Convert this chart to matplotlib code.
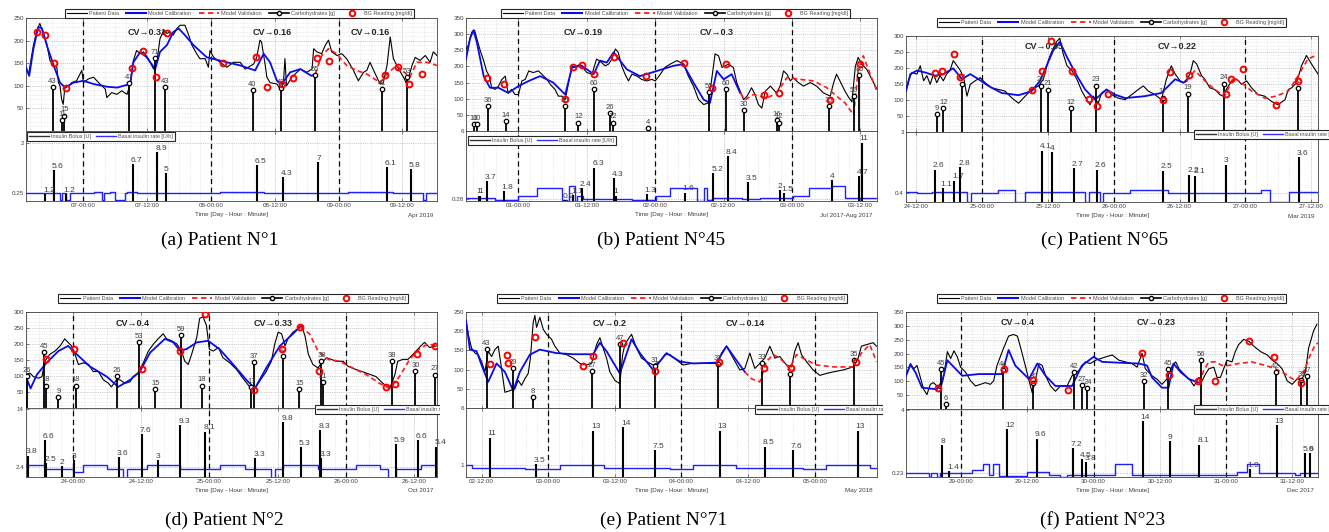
import matplotlib
matplotlib.use("Agg")
import matplotlib.pyplot as plt
from matplotlib.lines import Line2D
from matplotlib.ticker import MultipleLocator
from matplotlib.transforms import Bbox, TransformedBbox

plt.rcParams['font.family'] = ['Liberation Sans', 'DejaVu Sans']

W, H = 1329, 532

# time axis of every panel: hours from the first labelled midnight

# ---------------- (a) Patient N°1 ----------------
a_ticks = [0, 12, 24, 36, 48, 60]
a_tick_labels = ['07-00:00', '07-12:00', '08-00:00', '08-12:00', '09-00:00', '09-12:00']
a_days = [0, 24, 48]
a_cv = [(12.0, 'CV→0.31'), (35.6, 'CV→0.16'), (53.9, 'CV→0.16')]
a_cgm = [(-10.8, 137), (-10.3, 126), (-9.4, 190), (-8.8, 220), (-8.2, 238), (-7.5, 215), (-6.9, 193),
         (-6.3, 156), (-5.6, 145), (-5.0, 141), (-4.7, 107), (-4.4, 100), (-4.1, 70), (-3.8, 59),
         (-3.5, 96), (-2.8, 100), (-2.2, 107), (-1.3, 111), (-0.3, 134), (0.0, 107), (0.9, 115),
         (1.9, 119), (3.1, 104), (4.1, 93), (4.4, 74), (5.3, 85), (6.3, 81), (7.2, 89), (8.2, 81),
         (8.8, 104), (9.4, 156), (10.0, 178), (10.7, 171), (11.3, 175), (12.2, 160), (13.2, 137),
         (13.8, 152), (14.4, 204), (15.1, 223), (15.7, 216), (16.3, 219), (16.9, 212), (17.6, 227),
         (18.2, 234), (19.1, 234), (19.8, 212), (20.4, 190), (21.3, 171), (21.9, 160), (22.9, 160),
         (23.5, 141), (23.8, 178), (24.5, 163), (25.7, 152), (27.0, 141), (28.2, 152), (29.5, 152),
         (30.4, 137), (32.0, 148), (32.6, 163), (33.2, 201), (33.5, 197), (34.2, 145), (34.5, 119),
         (35.1, 107), (36.4, 104), (37.0, 93), (37.6, 104), (37.9, 160), (38.2, 100), (39.2, 119),
         (40.8, 137), (42.0, 130), (43.0, 137), (43.3, 182), (43.9, 175), (44.8, 171), (45.5, 190),
         (46.1, 201), (46.7, 175), (47.7, 167), (48.6, 171), (49.5, 160), (50.8, 134), (51.7, 111),
         (52.7, 130), (53.3, 134), (53.9, 152), (54.9, 126), (55.8, 104), (56.4, 107), (57.1, 145),
         (57.7, 208), (58.3, 160), (59.3, 137), (60.2, 119), (60.8, 104), (61.8, 145), (62.4, 163),
         (63.3, 156), (64.3, 167), (65.2, 152), (65.8, 175), (66.5, 167)]
a_cal = [(-10.8, 141), (-10.2, 122), (-9.4, 182), (-8.5, 230), (-7.8, 227), (-6.9, 190), (-5.6, 145),
         (-4.4, 107), (-3.4, 96), (-1.9, 107), (0.0, 111), (1.9, 104), (4.4, 98), (6.3, 96), (8.8, 104),
         (9.4, 152), (10.7, 175), (11.9, 163), (13.5, 137), (14.4, 175), (15.7, 190), (16.9, 219),
         (17.9, 227), (19.1, 212), (20.7, 190), (23.2, 163), (27.0, 152), (29.5, 145), (32.3, 134),
         (33.9, 171), (35.1, 152), (36.4, 111), (37.3, 104), (38.9, 130), (40.8, 137), (42.9, 122),
         (43.6, 126)]
a_val = [(43.6, 126), (44.8, 167), (46.1, 182), (47.6, 171), (49.5, 145), (51.4, 134), (53.3, 126),
         (55.8, 107), (57.1, 126), (58.9, 145), (61.4, 119), (62.7, 152), (64.6, 152), (66.5, 145)]
a_bg = [(-8.7, 219), (-7.2, 213), (-5.6, 150), (-3.3, 96), (9.1, 140), (11.2, 177), (13.7, 120),
        (15.7, 217), (26.2, 151), (32.4, 163), (34.5, 98), (37.4, 104), (39.5, 117), (44.0, 161),
        (46.1, 155), (56.8, 123), (59.2, 142), (61.3, 103), (63.6, 126)]
a_carbs = [(-5.8, 43), (-4.0, 11), (-3.6, 15), (8.6, 47), (13.5, 71), (15.3, 43), (31.8, 40),
           (37.2, 42), (43.6, 55), (56.2, 41), (60.9, 53)]
a_bolus = [(-7.2, 1.2), (-5.5, 5.6), (-3.3, 1.2), (9.3, 6.7), (13.9, 8.9), (15.5, 5), (32.6, 6.5),
           (37.5, 4.3), (44.2, 7), (57.1, 6.1), (61.6, 5.8)]
a_basal = [(-10.8, 0.25), (-4.4, 0), (-4.0, 0.25), (-3.3, 0), (-2.5, 0.25), (2.0, 0.3), (3.4, 0),
           (3.9, 0.25), (5.0, 0.3), (6.0, 0), (7.8, 0.25), (8.2, 0.3), (10.0, 0.25), (25.7, 0.3),
           (33.9, 0.25), (49.8, 0.3), (58.3, 0.25), (63.9, 0), (64.5, 0.25), (66.5, 0.25)]
a_basal_ticks = [0.25, 2]
a_basal_tick_labels = ['0.25', '2']

# ---------------- (b) Patient N°45 ----------------
b_ticks = [0, 12, 24, 36, 48, 60]
b_tick_labels = ['01-00:00', '01-12:00', '02-00:00', '02-12:00', '03-00:00', '03-12:00']
b_days = [0, 24, 48]
b_cv = [(11.4, 'CV→0.19'), (34.8, 'CV→0.3')]
b_cgm = [(-9.2, 254), (-8.8, 265), (-8.2, 306), (-7.7, 312), (-7.3, 286), (-6.7, 249), (-6.1, 218),
         (-5.6, 186), (-5.1, 170), (-4.7, 134), (-4.1, 129), (-3.5, 139), (-2.9, 160), (-2.3, 170),
         (-2.1, 144), (-1.8, 118), (-1.2, 129), (-0.6, 113), (0.0, 113), (0.6, 155), (1.2, 160),
         (1.8, 186), (2.6, 181), (3.5, 186), (4.1, 176), (5.0, 160), (5.6, 144), (6.4, 129), (7.0, 108),
         (7.6, 108), (8.2, 97), (8.8, 150), (9.4, 202), (9.9, 197), (10.8, 207), (12.0, 181),
         (12.9, 176), (13.7, 223), (14.6, 212), (15.2, 202), (15.8, 207), (16.4, 223), (17.0, 254),
         (17.5, 244), (18.1, 202), (18.7, 176), (19.3, 155), (19.9, 176), (20.8, 170), (21.6, 160),
         (22.5, 155), (23.4, 160), (24.0, 155), (24.9, 176), (25.7, 197), (26.6, 207), (27.8, 218),
         (29.0, 207), (29.8, 170), (30.7, 139), (31.6, 97), (32.5, 82), (33.3, 87), (33.9, 160),
         (34.5, 239), (35.1, 233), (35.7, 197), (36.3, 202), (36.8, 207), (37.7, 197), (38.3, 150),
         (38.9, 123), (39.5, 97), (40.1, 108), (40.9, 134), (41.5, 113), (42.1, 82), (42.7, 71),
         (43.3, 123), (44.2, 139), (44.7, 129), (45.3, 118), (45.9, 139), (46.5, 186), (47.1, 176),
         (47.7, 155), (48.2, 165), (49.1, 150), (50.0, 139), (51.2, 150), (52.3, 139), (53.5, 118),
         (54.7, 108), (55.3, 150), (55.8, 176), (56.4, 155), (57.3, 123), (57.9, 105), (58.5, 90),
         (59.1, 200), (59.6, 228), (60.2, 207), (61.1, 191), (62.0, 160), (62.9, 129)]
b_cal = [(-9.2, 223), (-8.5, 286), (-7.9, 312), (-7.3, 275), (-6.1, 170), (-5.0, 134), (-3.5, 134),
         (-1.8, 118), (0.0, 139), (1.8, 155), (3.8, 170), (6.1, 150), (8.2, 113), (9.4, 197),
         (11.1, 202), (13.2, 176), (14.3, 218), (15.5, 212), (16.7, 244), (19.0, 191), (21.3, 170),
         (24.3, 186), (27.2, 202), (28.9, 207), (30.7, 150), (32.5, 97), (33.6, 87), (34.8, 186),
         (36.0, 160), (37.4, 176), (38.9, 118)]
b_val = [(38.9, 118), (39.8, 97), (41.2, 113), (43.6, 102), (45.3, 118), (47.1, 165), (49.4, 160),
         (51.8, 155), (54.1, 134), (55.8, 108), (57.3, 87), (58.8, 50), (59.6, 191), (60.5, 233),
         (61.7, 176), (62.9, 123)]
b_bg = [(-5.6, 165), (-2.6, 147), (8.2, 99), (9.6, 197), (11.1, 204), (13.2, 176), (16.7, 230),
        (22.3, 170), (29.1, 212), (34.0, 132), (36.4, 207), (43.1, 113), (45.7, 118), (54.7, 95),
        (59.9, 207)]
b_carbs = [(-7.8, 10), (-7.3, 10), (-5.3, 36), (-2.2, 14), (8.1, 35), (10.5, 12), (13.2, 60),
           (16.1, 26), (16.5, 12), (22.8, 4), (33.5, 55), (36.4, 60), (39.6, 30), (45.3, 16),
           (45.7, 12), (54.4, 35), (58.9, 50), (59.8, 80)]
b_bolus = [(-7.0, 1), (-6.7, 1), (-5.6, 3.7), (-2.6, 1.8), (8.2, 0.2), (9.6, 1.1), (11.1, 2.4),
           (13.3, 6.3), (16.8, 4.3), (17.1, 1), (22.5, 1.3), (29.2, 1.6), (34.2, 5.2), (36.7, 8.4),
           (40.2, 3.5), (45.8, 2), (46.5, 1.5), (55.0, 4), (59.8, 4.7), (60.2, 11)]
b_basal = [(-9.2, 0.39), (-4.1, 0.2), (-2.9, 0.1), (-2.3, 0.2), (0.0, 0.53), (3.2, 1.19), (7.6, 0.2),
           (8.5, 0.1), (8.8, 1.33), (10.0, 0.1), (10.2, 0.53), (11.4, 0.25), (19.9, 0.2), (24.2, 0.48),
           (26.6, 1.19), (31.3, 0.1), (32.5, 1.19), (33.1, 0.2), (33.9, 0.39), (39.2, 0.25),
           (42.4, 0.39), (48.1, 0.53), (50.9, 1.19), (55.0, 1.33), (57.3, 0.39), (62.9, 0.39)]
b_basal_ticks = [0.28, 6]
b_basal_tick_labels = ['0.28', '6']

# ---------------- (c) Patient N°65 ----------------
c_ticks = [-12, 0, 12, 24, 36, 48, 60]
c_tick_labels = ['24-12:00', '25-00:00', '25-12:00', '26-00:00', '26-12:00', '27-00:00', '27-12:00']
c_days = [0, 24, 48]
c_cv = [(11.4, 'CV→0.35'), (35.5, 'CV→0.22')]
c_cgm = [(-13.8, 128), (-13.3, 165), (-12.7, 186), (-11.8, 181), (-11.2, 207), (-10.6, 160),
         (-10.0, 176), (-9.4, 149), (-8.8, 181), (-8.2, 154), (-7.6, 176), (-7.0, 160), (-6.4, 181),
         (-5.8, 192), (-5.2, 223), (-4.5, 207), (-3.9, 192), (-3.3, 170), (-2.7, 112), (-2.1, 149),
         (-1.2, 160), (-0.3, 170), (0.6, 154), (1.8, 138), (3.0, 133), (4.2, 128), (5.5, 106),
         (6.7, 90), (7.9, 112), (9.1, 133), (10.3, 144), (11.2, 165), (12.1, 223), (12.7, 250),
         (13.6, 282), (14.2, 293), (14.8, 245), (15.5, 207), (16.4, 192), (17.3, 165), (18.2, 128),
         (19.1, 101), (19.7, 85), (20.3, 112), (21.2, 90), (21.8, 122), (22.7, 133), (23.6, 117),
         (24.8, 106), (26.1, 101), (27.3, 117), (28.5, 133), (29.4, 144), (30.3, 128), (31.5, 117),
         (32.7, 101), (33.6, 165), (34.5, 207), (35.2, 181), (36.1, 160), (36.7, 154), (37.3, 165),
         (37.9, 181), (38.5, 223), (39.1, 213), (40.0, 176), (40.6, 165), (41.5, 138), (42.4, 133),
         (43.3, 117), (43.9, 112), (44.5, 133), (45.5, 160), (46.4, 165), (47.3, 149), (48.2, 160),
         (49.1, 138), (50.3, 117), (51.5, 112), (52.7, 96), (53.9, 85), (55.2, 101), (55.8, 133),
         (56.4, 138), (57.3, 154), (58.2, 207), (59.1, 239), (60.0, 213), (61.2, 181)]
c_cal = [(-13.8, 128), (-13.0, 181), (-11.8, 192), (-10.3, 186), (-8.5, 176), (-7.0, 181),
         (-5.2, 199), (-3.6, 165), (-2.1, 181), (-0.6, 165), (1.2, 144), (3.6, 122), (6.7, 115),
         (9.1, 128), (10.6, 160), (11.8, 207), (13.0, 255), (14.2, 282), (15.5, 234), (17.3, 176),
         (18.8, 133), (20.6, 101), (22.7, 133), (24.2, 117), (26.1, 106), (29.7, 112), (32.7, 122),
         (35.2, 165), (36.7, 154), (37.3, 160)]
c_val = [(37.3, 160), (38.8, 192), (40.6, 160), (42.4, 133), (44.2, 112), (45.8, 170), (47.3, 154),
         (49.1, 128), (51.5, 106), (53.6, 112), (55.8, 128), (57.6, 176), (59.4, 229), (60.9, 239)]
c_bg = [(-8.6, 184), (-7.2, 192), (-5.0, 244), (-3.9, 173), (9.1, 131), (10.9, 192), (12.6, 284),
        (16.5, 190), (19.6, 103), (20.9, 82), (23.0, 118), (33.0, 101), (34.2, 186), (37.7, 179),
        (44.4, 120), (45.3, 167), (47.6, 198), (53.6, 84), (57.5, 160)]
c_carbs = [(-8.2, 9), (-7.0, 12), (-3.6, 24), (10.8, 23), (12.1, 21), (16.2, 12), (20.8, 23),
           (33.0, 17), (37.5, 19), (44.1, 24), (57.6, 22)]
c_bolus = [(-8.5, 2.6), (-7.1, 1.1), (-5.0, 1.7), (-3.9, 2.8), (10.9, 4.1), (12.7, 4), (16.7, 2.7),
           (20.9, 2.6), (33.0, 2.5), (37.8, 2.2), (38.9, 2.1), (44.4, 3), (57.7, 3.6)]
c_basal = [(-13.8, 0.43), (-11.8, 0.4), (-9.1, 0.42), (-2.7, 0), (-1.9, 0.4), (3.0, 0.5), (6.1, 0),
           (7.9, 0.42), (18.8, 0), (19.5, 0.42), (21.5, 0), (22.1, 0.4), (27.0, 0.5), (33.9, 0.4),
           (50.9, 0.5), (52.4, 0), (55.9, 0.42), (61.2, 0.42)]
c_basal_ticks = [0.4, 3]
c_basal_tick_labels = ['0.4', '3']

# ---------------- (d) Patient N°2 ----------------
d_ticks = [0, 12, 24, 36, 48, 60]
d_tick_labels = ['24-00:00', '24-12:00', '25-00:00', '25-12:00', '26-00:00', '26-12:00']
d_days = [0, 24, 48]
d_cv = [(10.6, 'CV→0.4'), (35.3, 'CV→0.33')]
d_cgm = [(-8.2, 104), (-7.5, 109), (-6.9, 98), (-6.0, 93), (-5.4, 98), (-4.9, 146), (-4.0, 168),
         (-3.1, 178), (-2.2, 194), (-1.4, 216), (-0.8, 205), (-0.2, 194), (0.4, 168), (1.0, 136),
         (1.9, 141), (2.8, 136), (3.6, 114), (4.5, 114), (5.4, 88), (6.3, 77), (6.8, 66), (7.7, 88),
         (8.3, 88), (9.2, 77), (10.1, 82), (10.6, 98), (11.5, 109), (12.4, 141), (13.3, 178),
         (14.2, 200), (15.0, 216), (15.9, 232), (16.5, 216), (17.4, 210), (18.3, 200), (19.1, 178),
         (19.7, 146), (20.3, 136), (20.9, 168), (21.8, 221), (22.3, 280), (22.9, 285), (23.5, 258),
         (24.0, 184), (24.7, 178), (25.6, 189), (26.4, 157), (27.6, 141), (28.8, 120), (29.9, 93),
         (31.1, 66), (32.0, 61), (32.6, 77), (33.2, 93), (34.0, 114), (34.9, 146), (35.5, 200),
         (36.1, 237), (36.7, 232), (37.3, 194), (37.8, 216), (38.7, 237), (39.6, 248), (40.2, 258),
         (40.8, 226), (41.4, 168), (42.2, 136), (43.1, 125), (43.7, 141), (44.6, 157), (45.4, 152),
         (46.3, 146), (47.5, 146), (48.4, 130), (49.8, 120), (51.6, 109), (53.3, 98), (54.5, 77),
         (55.7, 61), (56.6, 104), (57.1, 146), (58.0, 152), (58.9, 152), (59.8, 168), (60.9, 189),
         (61.8, 205), (62.7, 189), (63.9, 194)]
d_cal = [(-8.2, 98), (-7.4, 61), (-6.3, 104), (-4.6, 141), (-2.5, 178), (-0.8, 194), (0.7, 168),
         (3.0, 130), (6.0, 98), (8.0, 66), (10.1, 88), (11.8, 114), (13.6, 173), (16.2, 216),
         (17.7, 205), (18.8, 180), (20.0, 184), (21.8, 205), (23.8, 210), (25.8, 184), (28.2, 136),
         (30.5, 88), (32.0, 61), (34.0, 125), (36.4, 194), (38.7, 232), (39.9, 253)]
d_val = [(39.9, 253), (41.6, 232), (43.1, 178), (44.9, 152), (46.9, 146), (49.2, 125), (51.6, 104),
         (53.9, 77), (55.7, 61), (57.4, 98), (59.2, 152), (60.9, 184), (62.4, 200), (63.9, 194)]
d_bg = [(-4.7, 154), (0.2, 184), (12.1, 123), (18.8, 177), (23.2, 293), (31.9, 56), (36.8, 184),
        (39.9, 253), (43.3, 117), (55.1, 66), (56.7, 75), (60.4, 170), (63.6, 194)]
d_carbs = [(-8.0, 26), (-5.0, 45), (-4.7, 18), (-2.5, 9), (0.6, 18), (7.7, 26), (11.7, 53), (14.5, 15),
           (19.0, 59), (22.7, 18), (31.4, 17), (31.8, 37), (37.0, 42), (39.8, 15), (43.7, 38),
           (44.0, 21), (56.1, 38), (60.2, 30), (63.7, 27)]
d_bolus = [(-7.9, 3.8), (-4.9, 6.6), (-4.6, 2.5), (-1.9, 2), (0.2, 3), (8.1, 3.6), (12.1, 7.6),
           (15.0, 3), (18.9, 9.3), (23.3, 8.1), (32.1, 3.3), (37.0, 9.8), (40.1, 5.3), (43.5, 8.3),
           (43.7, 3.3), (56.8, 5.9), (60.6, 6.6), (63.9, 5.4)]
d_basal = [(-8.2, 2.73), (-4.9, 1.94), (0.0, 1.4), (1.9, 2.73), (6.0, 1.94), (8.9, 0), (9.5, 1.94),
           (13.0, 2.73), (18.8, 1.94), (25.8, 2.73), (30.2, 1.94), (34.9, 0), (35.5, 1.94),
           (37.0, 2.73), (43.1, 1.94), (49.8, 2.73), (53.9, 1.94), (55.4, 0), (56.8, 1.94),
           (61.2, 2.73), (64.0, 2.73)]
d_basal_ticks = [2.4, 14]
d_basal_tick_labels = ['2.4', '14']

# ---------------- (e) Patient N°71 ----------------
e_ticks = [-12, 0, 12, 24, 36, 48]
e_tick_labels = ['02-12:00', '03-00:00', '03-12:00', '04-00:00', '04-12:00', '05-00:00']
e_days = [0, 24, 48]
e_cv = [(11.1, 'CV→0.2'), (35.4, 'CV→0.14')]
e_cgm = [(-14.8, 228), (-14.4, 192), (-13.8, 156), (-13.2, 143), (-12.6, 139), (-12.0, 121),
         (-11.4, 94), (-10.8, 148), (-10.2, 134), (-9.6, 152), (-9.0, 161), (-8.4, 103), (-7.8, 41),
         (-6.9, 45), (-6.0, 50), (-5.4, 72), (-4.8, 59), (-4.2, 76), (-3.6, 90), (-3.2, 130),
         (-2.7, 223), (-2.4, 241), (-2.1, 210), (-1.5, 236), (-0.9, 205), (-0.3, 192), (0.6, 179),
         (1.2, 161), (2.1, 143), (3.3, 139), (4.5, 130), (5.7, 116), (6.9, 112), (7.8, 116),
         (8.7, 165), (9.3, 183), (9.9, 156), (10.5, 130), (11.1, 94), (12.0, 72), (12.9, 63),
         (13.4, 139), (13.8, 165), (14.4, 179), (15.0, 192), (15.9, 156), (16.8, 130), (17.7, 121),
         (18.9, 112), (20.1, 121), (21.0, 139), (21.9, 139), (23.1, 125), (24.3, 112), (25.8, 116),
         (27.3, 116), (29.1, 116), (30.6, 116), (31.2, 143), (32.1, 161), (33.3, 130), (34.5, 99),
         (35.4, 103), (36.3, 143), (37.2, 103), (38.1, 116), (39.0, 130), (39.9, 161), (40.8, 130),
         (41.7, 134), (42.9, 112), (43.8, 107), (44.4, 148), (45.0, 170), (45.6, 139), (46.5, 121),
         (47.7, 99), (48.9, 85), (50.1, 90), (51.3, 94), (53.1, 99), (54.9, 107), (55.8, 130),
         (56.4, 161), (57.3, 165), (58.5, 170), (59.1, 161)]
e_cal = [(-14.8, 228), (-14.1, 152), (-12.9, 148), (-12.0, 112), (-10.8, 68), (-9.3, 116),
         (-7.8, 94), (-6.3, 45), (-5.1, 94), (-3.3, 139), (-1.5, 152), (1.5, 143), (4.5, 140),
         (8.1, 140), (9.3, 170), (10.5, 148), (12.9, 90), (15.0, 179), (16.5, 143), (18.9, 99),
         (21.3, 143), (23.7, 121), (26.1, 116), (30.3, 118), (32.1, 161), (33.6, 130), (35.4, 94)]
e_val = [(35.4, 94), (36.6, 76), (38.1, 68), (39.3, 121), (40.5, 139), (41.7, 130), (43.5, 103),
         (44.7, 139), (46.5, 125), (48.3, 112), (51.3, 107), (54.9, 107), (56.4, 143), (57.9, 165),
         (59.1, 121)]
e_bg = [(-10.5, 114), (-7.5, 137), (-7.2, 116), (-2.4, 184), (6.3, 110), (8.1, 135), (13.5, 169),
        (19.2, 96), (30.8, 120), (38.8, 103), (43.8, 103), (55.5, 121)]
e_carbs = [(-11.1, 43), (-6.4, 29), (-2.8, 8), (7.8, 27), (12.9, 47), (19.2, 31), (30.6, 32),
           (38.5, 33), (43.6, 25), (55.1, 35)]
e_bolus = [(-10.5, 11), (-2.2, 3.5), (8.1, 13), (13.5, 14), (19.2, 7.5), (30.9, 13), (39.0, 8.5),
           (44.0, 7.6), (55.7, 13)]
e_basal = [(-14.8, 1.0), (-13.8, 0.77), (-4.2, 0.65), (2.1, 1.0), (10.0, 0.77), (22.0, 0.65),
           (26.1, 1.0), (33.9, 0.77), (45.9, 0.65), (50.1, 1.0), (58.0, 0.77), (59.2, 0.77)]
e_basal_ticks = [1, 6]
e_basal_tick_labels = ['1', '6']

# ---------------- (f) Patient N°23 ----------------
f_ticks = [0, 12, 24, 36, 48, 60]
f_tick_labels = ['29-00:00', '29-12:00', '30-00:00', '30-12:00', '31-00:00', '31-12:00']
f_days = [0, 24, 48]
f_cv = [(10.2, 'CV→0.4'), (35.3, 'CV→0.23')]
f_cgm = [(-10.0, 120), (-9.2, 164), (-8.6, 145), (-8.0, 157), (-7.4, 114), (-6.8, 71), (-6.2, 52),
         (-5.6, 89), (-5.0, 95), (-4.4, 83), (-3.7, 71), (-3.1, 126), (-2.5, 207), (-1.9, 182),
         (-1.3, 210), (-0.7, 188), (-0.1, 151), (0.8, 133), (1.7, 102), (2.6, 83), (3.5, 89),
         (4.4, 95), (5.3, 89), (5.9, 102), (6.5, 157), (7.7, 220), (8.6, 263), (9.5, 269),
         (10.2, 263), (10.8, 220), (11.7, 151), (12.3, 102), (12.9, 58), (13.5, 108), (14.1, 164),
         (14.7, 157), (15.3, 120), (16.2, 83), (17.1, 64), (18.0, 83), (19.2, 83), (20.1, 120),
         (21.0, 133), (21.9, 151), (22.5, 170), (23.4, 164), (24.4, 176), (26.2, 188), (27.4, 195),
         (28.6, 176), (29.8, 170), (31.0, 164), (31.9, 151), (32.8, 201), (33.4, 145), (34.6, 120),
         (35.5, 108), (36.4, 89), (37.3, 108), (38.3, 157), (38.9, 170), (39.5, 145), (40.4, 126),
         (41.6, 102), (42.2, 83), (43.1, 114), (43.7, 102), (44.3, 126), (44.9, 145), (45.8, 151),
         (46.4, 114), (47.0, 114), (47.6, 145), (48.2, 176), (49.1, 170), (49.7, 207), (50.3, 232),
         (51.2, 251), (52.2, 244), (53.1, 226), (54.3, 207), (55.5, 195), (56.4, 176), (57.3, 164),
         (58.2, 145), (59.1, 102), (60.0, 89), (60.9, 108), (61.8, 108), (62.4, 133), (63.0, 220),
         (63.9, 282), (64.5, 306)]
f_cal = [(-10.0, 120), (-9.2, 160), (-8.3, 133), (-7.1, 77), (-4.4, 71), (-3.4, 102), (-2.5, 176),
         (-1.6, 157), (0.2, 120), (3.2, 126), (7.4, 126), (8.6, 213), (9.8, 157), (12.3, 108),
         (13.8, 164), (15.3, 120), (17.1, 83), (20.1, 83), (21.9, 157), (24.0, 188), (25.6, 170),
         (29.8, 166), (32.2, 164), (33.7, 157), (34.6, 114), (36.4, 77), (37.6, 77), (38.5, 164),
         (39.8, 133), (41.3, 108), (43.1, 95)]
f_val = [(43.1, 95), (44.0, 139), (44.9, 170), (46.1, 170), (47.3, 157), (48.5, 157), (50.3, 164),
         (52.7, 170), (55.2, 157), (57.0, 145), (58.8, 126), (60.6, 102), (62.1, 133), (63.3, 195),
         (64.2, 232), (64.7, 238)]
f_bg = [(-4.2, 74), (7.7, 145), (13.1, 105), (19.4, 67), (32.7, 201), (37.6, 123), (42.9, 102),
        (46.1, 100), (52.1, 247), (56.7, 186), (61.7, 95)]
f_carbs = [(-3.7, 45), (-2.8, 6), (7.6, 44), (13.1, 30), (20.4, 42), (21.9, 27), (22.9, 24),
           (33.1, 32), (37.5, 45), (43.4, 56), (57.0, 42), (61.7, 33), (62.7, 37)]
f_bolus = [(-3.4, 8), (-2.2, 1.4), (8.3, 12), (13.7, 9.6), (20.3, 7.2), (21.9, 4.5), (22.7, 3.8),
           (32.9, 14), (37.9, 9), (43.2, 8.1), (52.3, 1.9), (57.2, 13), (62.3, 5.9), (63.3, 6)]
f_basal = [(-10.0, 0.23), (-5.9, 0), (-5.4, 0.23), (-4.4, 0), (-3.9, 0.23), (2.0, 0.41), (3.9, 0.75),
           (5.1, 0.1), (5.7, 0.75), (6.9, 0.05), (12.0, 0.31), (15.9, 0.1), (18.0, 0), (19.2, 0.1),
           (27.9, 0.75), (31.0, 0.1), (50.0, 0.31), (51.8, 0.75), (54.0, 0.23), (60.6, 0.1),
           (61.5, 0.23), (64.7, 0.23)]
f_basal_ticks = [0.23, 4]
f_basal_tick_labels = ['0.23', '4']

captions = ['(a) Patient N°1', '(b) Patient N°45', '(c) Patient N°65',
            '(d) Patient N°2', '(e) Patient N°71', '(f) Patient N°23']
months = ['Apr 2019', 'Jul 2017-Aug 2017', 'Mar 2019', 'Oct 2017', 'May 2018', 'Dec 2017']

PANELS = [
    dict(ticks=a_ticks, tick_labels=a_tick_labels, days=a_days, cv=a_cv, cgm=a_cgm, cal=a_cal, val=a_val,
         bg=a_bg, carbs=a_carbs, bolus=a_bolus, basal=a_basal, basal_ticks=a_basal_ticks,
         basal_tick_labels=a_basal_tick_labels),
    dict(ticks=b_ticks, tick_labels=b_tick_labels, days=b_days, cv=b_cv, cgm=b_cgm, cal=b_cal, val=b_val,
         bg=b_bg, carbs=b_carbs, bolus=b_bolus, basal=b_basal, basal_ticks=b_basal_ticks,
         basal_tick_labels=b_basal_tick_labels),
    dict(ticks=c_ticks, tick_labels=c_tick_labels, days=c_days, cv=c_cv, cgm=c_cgm, cal=c_cal, val=c_val,
         bg=c_bg, carbs=c_carbs, bolus=c_bolus, basal=c_basal, basal_ticks=c_basal_ticks,
         basal_tick_labels=c_basal_tick_labels),
    dict(ticks=d_ticks, tick_labels=d_tick_labels, days=d_days, cv=d_cv, cgm=d_cgm, cal=d_cal, val=d_val,
         bg=d_bg, carbs=d_carbs, bolus=d_bolus, basal=d_basal, basal_ticks=d_basal_ticks,
         basal_tick_labels=d_basal_tick_labels),
    dict(ticks=e_ticks, tick_labels=e_tick_labels, days=e_days, cv=e_cv, cgm=e_cgm, cal=e_cal, val=e_val,
         bg=e_bg, carbs=e_carbs, bolus=e_bolus, basal=e_basal, basal_ticks=e_basal_ticks,
         basal_tick_labels=e_basal_tick_labels),
    dict(ticks=f_ticks, tick_labels=f_tick_labels, days=f_days, cv=f_cv, cgm=f_cgm, cal=f_cal, val=f_val,
         bg=f_bg, carbs=f_carbs, bolus=f_bolus, basal=f_basal, basal_ticks=f_basal_ticks,
         basal_tick_labels=f_basal_tick_labels),
]

# layout: pixel boxes (left, top, mid, bottom, right), axis ranges, legend spots
LAYOUT = [
    dict(box=(26, 18, 131, 201, 437), xlim=(-10.8, 66.5), ymax=250, carb_top=110.6, bolus_top=12.7,
         basal_ylim=(-0.02, 2.43), leg_x=0.519, leg_dy=0.0, leg2=(0.003, 0.985), clip=None,
         cv_y=0.875, cap=(220, 240)),
    dict(box=(466, 18, 131, 201, 877), xlim=(-9.2, 62.9), ymax=350, carb_top=161.0, bolus_top=13.2,
         basal_ylim=(0.1, 6.0), leg_x=0.51, leg_dy=0.0, leg2=(0.005, 0.93), clip=None,
         cv_y=0.876, cap=(661, 240)),
    dict(box=(906, 36, 132, 202, 1318), xlim=(-13.8, 61.2), ymax=300, carb_top=47.6, bolus_top=5.6,
         basal_ylim=(0.0, 3.0), leg_x=0.499, leg_dy=0.094, leg2=(0.699, 1.03), clip=None,
         cv_y=0.89, cap=(1105, 240)),
    dict(box=(26, 312, 408, 477, 437), xlim=(-8.2, 64.0), ymax=300, carb_top=77.5, bolus_top=12.3,
         basal_ylim=(0.35, 14.1), leg_x=0.504, leg_dy=0.094, leg2=(0.703, 1.04), clip=440,
         cv_y=0.885, cap=(224, 520)),
    dict(box=(466, 312, 408, 477, 877), xlim=(-14.8, 59.2), ymax=250, carb_top=70.4, bolus_top=19.3,
         basal_ylim=(-0.05, 6.0), leg_x=0.501, leg_dy=0.094, leg2=(0.703, 1.04), clip=883,
         cv_y=0.885, cap=(664, 520)),
    dict(box=(906, 312, 409, 477, 1318), xlim=(-10.0, 64.7), ymax=350, carb_top=110.4, bolus_top=17.0,
         basal_ylim=(-0.01, 4.05), leg_x=0.499, leg_dy=0.094, leg2=(0.699, 1.06), clip=None,
         cv_y=0.89, cap=(1103, 520)),
]

TXT = '0.25'


def unzip(pairs):
    return [p[0] for p in pairs], [p[1] for p in pairs]


def px_rect(left, top, right, bottom):
    return [left / W, 1 - bottom / H, (right - left) / W, (bottom - top) / H]


def draw_panel(fig, d, lay, caption, month):
    left, top, mid, bottom, right = lay['box']
    ax = fig.add_axes(px_rect(left, top, right, mid))
    axb = fig.add_axes(px_rect(left, mid, right, bottom))

    for a in (ax, axb):
        a.set_xticks(d['ticks'])
        a.xaxis.set_minor_locator(MultipleLocator(2))
        a.tick_params(which='both', direction='in', top=True, right=True, labelsize=4.5,
                      labelcolor=TXT, pad=1.5, width=0.5, color='0.3')
        a.tick_params(which='major', length=2)
        a.tick_params(which='minor', length=0)
        a.grid(which='major', ls=':', lw=0.5, color='0.6')
        a.grid(which='minor', axis='x', ls=':', lw=0.4, color='0.82')
        for s in a.spines.values():
            s.set_linewidth(0.6)
            s.set_color('0.25')
        for day in d['days']:
            a.axvline(day, color='k', ls=(0, (4, 3)), lw=0.9, zorder=2.5)

    # glucose panel
    ax.tick_params(labelbottom=False)
    ax.set_yticks(list(range(50, lay['ymax'] + 1, 50)))
    ax.yaxis.set_minor_locator(MultipleLocator(10))
    ax.grid(which='minor', axis='y', ls=':', lw=0.4, color='0.82')
    t, v = unzip(d['cgm'])
    ax.plot(t, v, color='k', lw=0.8, zorder=3)
    t, v = unzip(d['cal'])
    ax.plot(t, v, color='#0a0aee', lw=1.3, zorder=3.2)
    t, v = unzip(d['val'])
    ax.plot(t, v, color='#ff1a1a', lw=1.2, ls=(0, (3, 2)), zorder=3.2)
    for x, s in d['cv']:
        ax.text(x, lay['cv_y'], s, transform=ax.get_xaxis_transform(), ha='center', va='center',
                fontsize=6.5, fontweight='bold', color='0.15', zorder=4)
    ax.set_ylim(0, lay['ymax'])

    # carbohydrates on their own scale, BG readings on top
    axc = ax.twinx()
    axc.axis('off')
    t, v = unzip(d['carbs'])
    axc.vlines(t, 0, v, color='k', lw=1.3, zorder=3)
    axc.plot(t, v, ls='none', marker='o', ms=3.2, mfc='white', mec='k', mew=0.9, zorder=4)
    for ti, vi in d['carbs']:
        axc.annotate(f'{vi:g}', (ti, vi), xytext=(0, 1.6), textcoords='offset points',
                     ha='center', va='bottom', fontsize=5.5, color=TXT, zorder=4)
    t, v = unzip(d['bg'])
    axc.plot(t, v, ls='none', marker='o', ms=4.2, mfc='none', mec='#ff0000', mew=1.4,
             transform=ax.transData, zorder=5)
    axc.set_ylim(0, lay['carb_top'])

    handles = [Line2D([], [], color='k', lw=0.8),
               Line2D([], [], color='#0a0aee', lw=1.5),
               Line2D([], [], color='#ff1a1a', lw=1.3, ls=(0, (3, 2))),
               Line2D([], [], color='k', lw=1.2, marker='o', ms=3, mfc='white', mec='k'),
               Line2D([], [], ls='none', marker='o', ms=4, mfc='none', mec='#ff0000', mew=1.4)]
    names = ['Patient Data', 'Model Calibration', 'Model Validation', 'Carbohydrates [g]',
             'BG Reading [mg/dl]']
    leg = axc.legend(handles, names, loc='lower center', bbox_to_anchor=(lay['leg_x'], 1 + lay['leg_dy']),
                     ncol=5, fontsize=4, frameon=True, fancybox=False, edgecolor='0.15', framealpha=1,
                     borderpad=0.35, handlelength=3.6, handletextpad=0.4, columnspacing=1.3,
                     borderaxespad=0, numpoints=1)
    leg.get_frame().set_linewidth(0.8)
    for txt in leg.get_texts():
        txt.set_color('0.3')

    # insulin panel
    axb.set_xticklabels(d['tick_labels'])
    axb.set_yticks(d['basal_ticks'], labels=d['basal_tick_labels'])
    axb.set_xlabel('Time [Day - Hour : Minute]', fontsize=4.5, color=TXT, labelpad=2.5)
    axb.text(0.99, -0.2, month, transform=axb.transAxes, ha='right', va='center',
             fontsize=4.5, color=TXT)
    t, v = unzip(d['basal'])
    axb.step(t, v, where='post', color='#1f1fff', lw=1.0, zorder=3)
    axb.set_ylim(*lay['basal_ylim'])

    axbo = axb.twinx()
    axbo.axis('off')
    t, v = unzip(d['bolus'])
    axbo.vlines(t, 0, v, color='k', lw=1.5, zorder=3)
    for ti, vi in d['bolus']:
        axbo.annotate(f'{vi:g}', (ti, vi), xytext=(-1.5, 0.2), textcoords='offset points',
                      ha='left', va='bottom', fontsize=6, color=TXT)
    axbo.set_ylim(0, lay['bolus_top'])

    h2 = [Line2D([], [], color='0.2', lw=1.0), Line2D([], [], color='#3030ff', lw=1.0)]
    leg2 = axbo.legend(h2, ['Insulin Bolus [U]', 'Basal insulin rate [U/h]'], loc='upper left',
                       bbox_to_anchor=lay['leg2'], ncol=2, fontsize=4, frameon=True, fancybox=False,
                       edgecolor='0.15', framealpha=1, borderpad=0.35, handlelength=3.6,
                       handletextpad=0.4, columnspacing=0.9, borderaxespad=0)
    leg2.get_frame().set_linewidth(0.8)
    for txt in leg2.get_texts():
        txt.set_color('0.3')
    if lay['clip']:
        clip = TransformedBbox(Bbox.from_extents(0, 0, lay['clip'] / W, 1), fig.transFigure)
        for art in leg2.findobj():
            art.set_clip_on(True)
            art.set_clip_box(clip)

    ax.set_xlim(*lay['xlim'])
    axb.set_xlim(*lay['xlim'])

    fig.text(lay['cap'][0] / W, 1 - lay['cap'][1] / H, caption, ha='center', va='center',
             fontsize=14, family=['Liberation Serif', 'DejaVu Serif'])


fig = plt.figure(figsize=(W / 100, H / 100), dpi=100)
for d, lay, cap, mon in zip(PANELS, LAYOUT, captions, months):
    draw_panel(fig, d, lay, cap, mon)

fig.savefig('out.png', dpi=100, facecolor='white')
